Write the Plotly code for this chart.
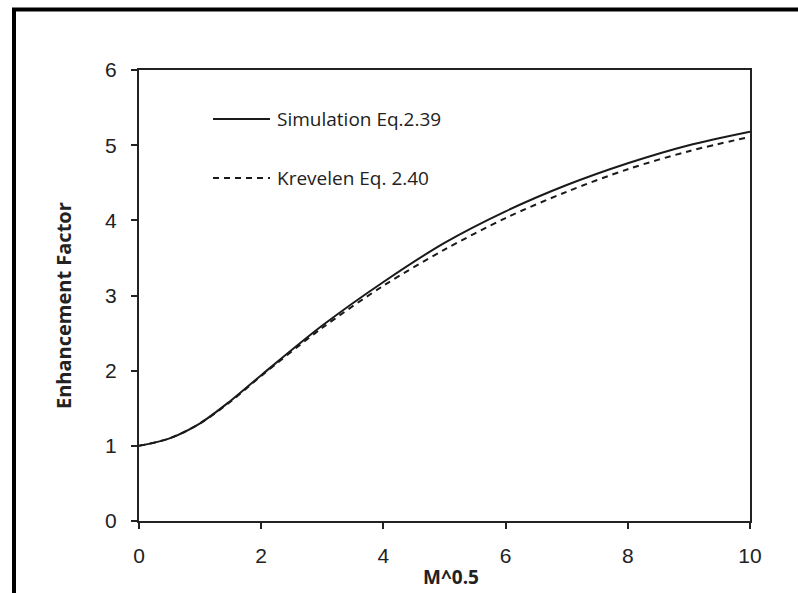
import plotly.graph_objects as go

x_vals = [0, 0.5, 1, 1.5, 2, 3, 4, 5, 6, 7, 8, 9, 10]
simulation = [1.0, 1.1, 1.3, 1.6, 1.94, 2.6, 3.18, 3.7, 4.12, 4.47, 4.76, 5.0, 5.18]
krevelen = [1.0, 1.1, 1.3, 1.59, 1.93, 2.57, 3.13, 3.61, 4.03, 4.38, 4.68, 4.92, 5.11]
names = ["Simulation Eq.2.39", "Krevelen Eq. 2.40"]
x_title = "M^0.5"
y_title = "Enhancement Factor"
x_ticks = [0, 2, 4, 6, 8, 10]
y_ticks = [0, 1, 2, 3, 4, 5, 6]

fig = go.Figure()
fig.add_trace(go.Scatter(x=x_vals, y=simulation, mode="lines", name=names[0],
                         line=dict(color="#1a1a1a", width=2, shape="spline", smoothing=0.9)))
fig.add_trace(go.Scatter(x=x_vals, y=krevelen, mode="lines", name=names[1],
                         line=dict(color="#1a1a1a", width=2, dash="6px,5px", shape="spline", smoothing=0.9)))

L, R, T, B = 139, 48, 70, 72
W, H = 798, 593
pw, ph = W - L - R, H - T - B

def px(x):
    return (x - L) / pw

def py(y):
    return (H - B - y) / ph

shapes = [
    # picture border (top and left)
    dict(type="line", xref="paper", yref="paper", x0=px(12), x1=px(800), y0=py(9.5), y1=py(9.5),
         line=dict(color="black", width=4)),
    dict(type="line", xref="paper", yref="paper", x0=px(14), x1=px(14), y0=py(8), y1=py(600),
         line=dict(color="black", width=4)),
    # legend samples
    dict(type="line", xref="paper", yref="paper", x0=px(213), x1=px(270), y0=py(119), y1=py(119),
         line=dict(color="#1a1a1a", width=2)),
    dict(type="line", xref="paper", yref="paper", x0=px(213), x1=px(270), y0=py(178), y1=py(178),
         line=dict(color="#1a1a1a", width=2, dash="6px,5px")),
]
annotations = [
    dict(text=names[0], xref="paper", yref="paper", x=px(275), y=py(119), xanchor="left", yanchor="middle",
         showarrow=False, font=dict(family="Open Sans", size=19, color="#222")),
    dict(text=names[1], xref="paper", yref="paper", x=px(275), y=py(178), xanchor="left", yanchor="middle",
         showarrow=False, font=dict(family="Open Sans", size=19, color="#222")),
    dict(text="<b>" + x_title + "</b>", xref="paper", yref="paper", x=px(451), y=py(577),
         xanchor="center", yanchor="middle", showarrow=False,
         font=dict(family="Open Sans", size=19, color="#222")),
    dict(text="<b>" + y_title + "</b>", xref="paper", yref="paper", x=px(63), y=py(306),
         xanchor="center", yanchor="middle", showarrow=False, textangle=-90,
         font=dict(family="Open Sans", size=20, color="#222")),
]

fig.update_layout(
    width=W, height=H, margin=dict(l=L, r=R, t=T, b=B),
    paper_bgcolor="white", plot_bgcolor="white", showlegend=False,
    shapes=shapes, annotations=annotations,
    font=dict(family="Liberation Sans", color="#222"),
)
fig.update_xaxes(range=[0, 10], tickvals=x_ticks, ticks="outside", ticklen=6, tickwidth=1.5,
                 tickcolor="#222", showline=True, linecolor="#222", linewidth=2, mirror=True,
                 showgrid=False, zeroline=False, tickfont=dict(size=21), ticklabelstandoff=9,
                 automargin=False)
fig.update_yaxes(range=[0, 6], tickvals=y_ticks, ticks="outside", ticklen=6, tickwidth=1.5,
                 tickcolor="#222", showline=True, linecolor="#222", linewidth=2, mirror=True,
                 showgrid=False, zeroline=False, tickfont=dict(size=21), ticklabelstandoff=10,
                 automargin=False)

fig.write_html("out.html")
